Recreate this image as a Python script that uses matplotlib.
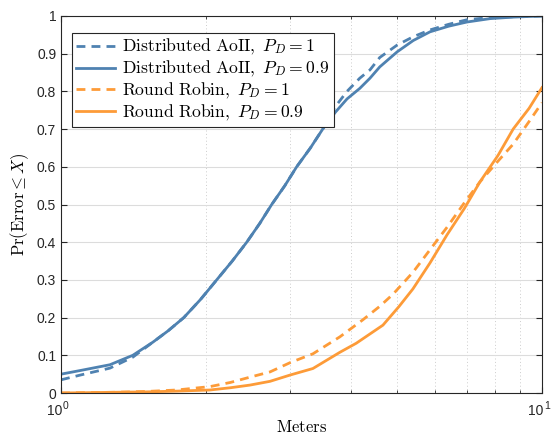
import matplotlib
matplotlib.use("Agg")
import matplotlib.pyplot as plt
from matplotlib.ticker import LogLocator, NullFormatter, FixedLocator

plt.rcParams['mathtext.fontset'] = 'cm'
plt.rcParams['font.family'] = ['Liberation Sans', 'DejaVu Sans']

blue = '#4f82b1'
orange = '#fd9b38'

# Distributed AoII, P_D = 1
aoii_1_x = [1.0, 1.1, 1.264, 1.41, 1.553, 1.67, 1.80, 1.95, 2.107, 2.27, 2.433, 2.59,
            2.742, 2.92, 3.09, 3.3, 3.5, 3.72, 3.932, 4.18, 4.389, 4.6, 5.0, 5.4,
            5.85, 6.4, 6.98, 7.8, 8.71, 10.0]
aoii_1_y = [0.035, 0.048, 0.066, 0.095, 0.135, 0.165, 0.20, 0.248, 0.30, 0.35, 0.40, 0.45,
            0.50, 0.55, 0.60, 0.65, 0.70, 0.76, 0.80, 0.835, 0.857, 0.89, 0.923, 0.945,
            0.963, 0.978, 0.99, 0.996, 0.998, 1.0]

# Distributed AoII, P_D = 0.9
aoii_09_x = [1.0, 1.1, 1.264, 1.41, 1.553, 1.67, 1.80, 1.95, 2.107, 2.27, 2.433, 2.59,
             2.742, 2.92, 3.09, 3.3, 3.5, 3.72, 3.932, 4.18, 4.389, 4.6, 5.0, 5.4,
             5.85, 6.4, 6.98, 7.8, 8.71, 10.0]
aoii_09_y = [0.05, 0.06, 0.075, 0.10, 0.135, 0.165, 0.20, 0.248, 0.30, 0.35, 0.40, 0.45,
             0.50, 0.55, 0.60, 0.65, 0.70, 0.745, 0.78, 0.808, 0.835, 0.865, 0.905, 0.935,
             0.958, 0.973, 0.984, 0.993, 0.997, 1.0]

# Round Robin, P_D = 1
rr_1_x = [1.0, 1.3, 1.5, 1.74, 2.04, 2.25, 2.47, 2.72, 3.0, 3.34, 3.8, 4.24, 4.6,
          4.9, 5.39, 5.85, 6.35, 6.9, 7.43, 8.1, 8.71, 9.4, 10.0]
rr_1_y = [0.0, 0.002, 0.004, 0.008, 0.017, 0.028, 0.042, 0.056, 0.081, 0.104, 0.149, 0.194, 0.23,
          0.262, 0.32, 0.38, 0.44, 0.505, 0.56, 0.615, 0.66, 0.72, 0.77]

# Round Robin, P_D = 0.9
rr_09_x = [1.0, 1.3, 1.5, 1.74, 2.04, 2.25, 2.47, 2.72, 3.0, 3.34, 3.8, 4.11, 4.67,
           5.04, 5.39, 5.85, 6.35, 6.9, 7.43, 8.1, 8.71, 9.4, 10.0]
rr_09_y = [0.0, 0.002, 0.003, 0.005, 0.008, 0.014, 0.021, 0.031, 0.048, 0.065, 0.108, 0.132, 0.18,
           0.229, 0.276, 0.345, 0.42, 0.49, 0.56, 0.63, 0.70, 0.755, 0.81]

y_ticks = [0, 0.1, 0.2, 0.3, 0.4, 0.5, 0.6, 0.7, 0.8, 0.9, 1]
y_tick_labels = ['0', '0.1', '0.2', '0.3', '0.4', '0.5', '0.6', '0.7', '0.8', '0.9', '1']

fig = plt.figure(figsize=(5.53, 4.38), dpi=100)
ax = fig.add_axes([0.1103, 0.1027, 0.8698, 0.8608])

dash = (0, (3.2, 2.2))
ax.plot(aoii_1_x, aoii_1_y, color=blue, lw=2, linestyle=dash,
        label=r'$\mathrm{Distributed\ AoII},\ P_D = 1$')
ax.plot(aoii_09_x, aoii_09_y, color=blue, lw=2,
        label=r'$\mathrm{Distributed\ AoII},\ P_D = 0.9$')
ax.plot(rr_1_x, rr_1_y, color=orange, lw=2, linestyle=dash,
        label=r'$\mathrm{Round\ Robin},\ P_D = 1$')
ax.plot(rr_09_x, rr_09_y, color=orange, lw=2,
        label=r'$\mathrm{Round\ Robin},\ P_D = 0.9$')

ax.set_xscale('log')
ax.set_xlim(1, 10)
ax.set_ylim(0, 1)
ax.yaxis.set_major_locator(FixedLocator(y_ticks))
ax.set_yticklabels(y_tick_labels)
ax.xaxis.set_major_locator(LogLocator(base=10))
ax.xaxis.set_minor_locator(LogLocator(base=10, subs=range(2, 10)))
ax.xaxis.set_minor_formatter(NullFormatter())

ax.tick_params(which='both', direction='in', top=True, right=True, color='#262626',
               labelcolor='#262626', labelsize=10)
ax.tick_params(which='major', length=4)
ax.tick_params(which='minor', length=2.5)
ax.tick_params(axis='x', labelbottom=False)

# MATLAB-style tick labels 10^0, 10^1
for xv, ex in [(1, '0'), (10, '1')]:
    ax.annotate('10', xy=(xv, 0), xycoords=('data', 'axes fraction'),
                xytext=(1, -8), textcoords='offset points',
                ha='right', va='top', fontsize=10, color='#262626')
    ax.annotate(ex, xy=(xv, 0), xycoords=('data', 'axes fraction'),
                xytext=(1.5, -5.5), textcoords='offset points',
                ha='left', va='top', fontsize=7.5, color='#262626')

ax.grid(True, which='major', axis='y', color='#dcdcdc', lw=0.8, linestyle='-')
ax.grid(True, which='minor', axis='x', color='#cccccc', lw=0.7, linestyle=(0, (1, 2.5)))
ax.set_axisbelow(True)
for sp in ax.spines.values():
    sp.set_color('#262626')
    sp.set_linewidth(0.8)

ax.set_xlabel(r'$\mathrm{Meters}$', fontsize=12, labelpad=15)
ax.set_ylabel(r'$\mathrm{Pr(Error} \leq X)$', fontsize=12, labelpad=4)

leg = ax.legend(loc='upper left', bbox_to_anchor=(0.0229, 0.955), fontsize=12.7,
                fancybox=False, framealpha=1, edgecolor='#262626', borderaxespad=0,
                handlelength=2.2, labelspacing=0.1, borderpad=0.25, handletextpad=0.4)
leg.get_frame().set_linewidth(0.8)

fig.savefig('out.png', dpi=100)
